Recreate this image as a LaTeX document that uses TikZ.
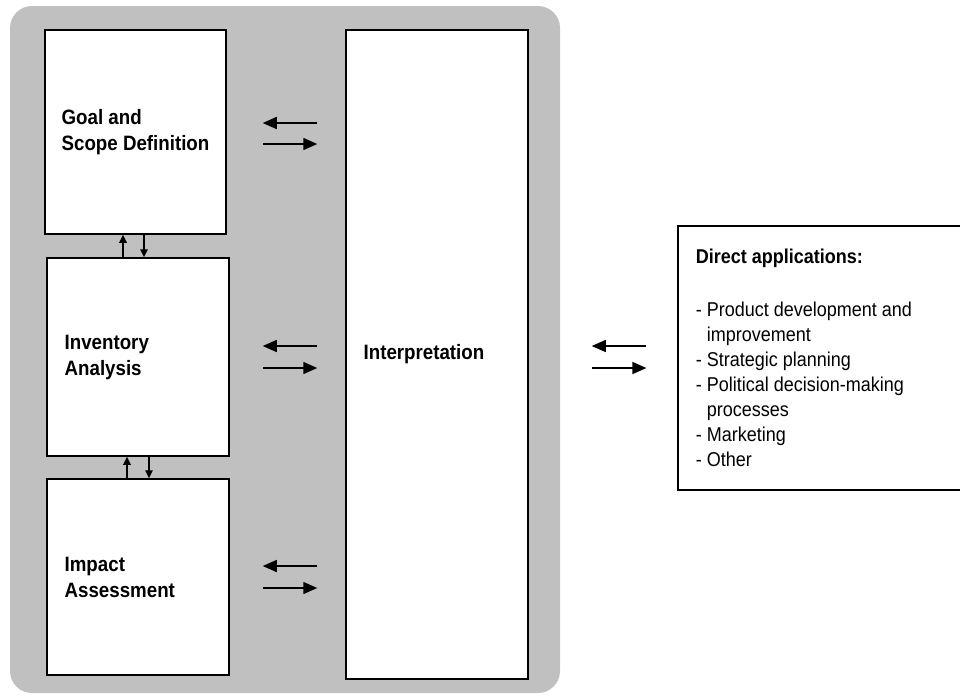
\documentclass[tikz,border=0pt]{standalone}
\usepackage{fontspec}
\setmainfont{Liberation Sans}[FakeStretch=0.9]
\usetikzlibrary{positioning, calc, arrows.meta}
\definecolor{panelgray}{HTML}{C0C0C0}
\tikzset{every picture/.append style={thick}}
\tikzset{
    stagebox/.style={draw, fill=white, line width=1.5pt, inner sep=0pt},
    stagetext/.style={anchor=west, align=left, inner sep=0pt, font=\fontsize{20.8}{26}\selectfont\bfseries},
    apptext/.style={anchor=west, align=left, inner sep=0pt, font=\fontsize{20}{25}\selectfont},
    bigflow/.style={line width=1.5pt, -{Triangle[length=14pt,width=12pt]}},
    smallflow/.style={line width=1.4pt, -{Triangle[length=8pt,width=7.5pt]}}
}

\begin{document}
\begin{tikzpicture}[x=1pt,y=-1pt]
    \useasboundingbox (0,0) rectangle (960,697);

    % gray panel behind the four stages
    \fill[panelgray, rounded corners=22pt] (10,6) rectangle (560,693);

    % stage boxes
    \node[stagebox, minimum width=181pt, minimum height=204pt] (goal) at (135.5,132) {};
    \node[stagebox, minimum width=182pt, minimum height=198pt] (inv) at (138,357) {};
    \node[stagebox, minimum width=182pt, minimum height=196pt] (impact) at (138,577) {};
    \node[stagebox, minimum width=182pt, minimum height=649pt] (interp) at (437,354.5) {};

    % stage labels
    \node[stagetext, right=17pt of goal.west] (goaltxt) {Goal and\\Scope Definition};
    \node[stagetext, right=18pt of inv.west] (invtxt) {Inventory\\Analysis};
    \node[stagetext, right=18pt of impact.west] (impacttxt) {Impact\\Assessment};
    \node[stagetext, right=18pt of interp.west] (interptxt) {Interpretation};

    % arrows between the stages and the interpretation
    \foreach \stage/\up/\down/\gap in {goal/-9/12/36pt, inv/-11/11/33pt, impact/-11/11/33pt} {
        \path (\stage.east) ++(0,\up) coordinate (\stage-l);
        \path (\stage.east) ++(0,\down) coordinate (\stage-r);
        \draw[bigflow, shorten <=28pt, shorten >=\gap] (\stage-l -| interp.west) -- (\stage-l);
        \draw[bigflow, shorten <=\gap, shorten >=28pt] (\stage-r) -- (\stage-r -| interp.west);
    }

    % small arrows between the left boxes
    \draw[smallflow] ([xshift=-15pt]inv.north) -- ([xshift=-15pt]inv.north |- goal.south);
    \draw[smallflow] ([xshift=6pt]inv.north |- goal.south) -- ([xshift=6pt]inv.north);
    \draw[smallflow] ([xshift=-11pt]impact.north) -- ([xshift=-11pt]impact.north |- inv.south);
    \draw[smallflow] ([xshift=11pt]impact.north |- inv.south) -- ([xshift=11pt]impact.north);

    % direct applications (right side runs off the page)
    \node[stagebox, line width=1.2pt, minimum width=284pt, minimum height=264pt] (apps) at (820,358) {};
    \node[apptext, right=18pt of apps.west] (appstxt) {\textbf{Direct applications:}\\[28pt]
        - Product development and\\\hphantom{- }improvement\\- Strategic planning\\
        - Political decision-making\\\hphantom{- }processes\\- Marketing\\- Other};

    \path (apps.west) ++(0,-12) coordinate (apps-l);
    \path (apps.west) ++(0,10) coordinate (apps-r);
    \draw[bigflow, shorten <=31pt, shorten >=63pt] (apps-l) -- (apps-l -| interp.east);
    \draw[bigflow, shorten <=63pt, shorten >=31pt] (apps-r -| interp.east) -- (apps-r);
\end{tikzpicture}
\end{document}
